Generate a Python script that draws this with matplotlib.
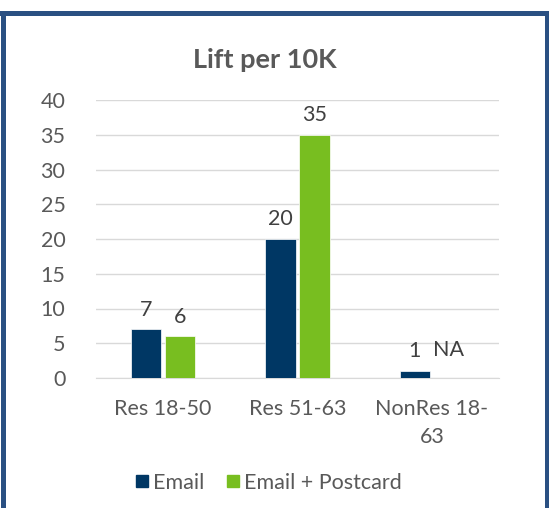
import matplotlib.pyplot as plt
from matplotlib.lines import Line2D
import numpy as np

categories = ["Res 18-50", "Res 51-63", "NonRes 18-\n63"]
email = [7, 20, 1]
email_postcard = [6, 35, None]  # NA for the last group
series_names = ["Email", "Email + Postcard"]
colors = ["#003764", "#78BE20"]
yticks = [0, 5, 10, 15, 20, 25, 30, 35, 40]

plt.rcParams["font.family"] = ["Lato", "DejaVu Sans"]

fig = plt.figure(figsize=(5.49, 5.08), dpi=100)
ax = fig.add_axes([96 / 549, 1 - 378 / 508, 403 / 549, 278 / 508])

x = np.arange(len(categories))
w = 0.224
off = 0.253
for i, (vals, c) in enumerate(zip([email, email_postcard], colors)):
    pos = x + (i - 0.5) * off
    for p, v in zip(pos, vals):
        if v is None:
            ax.text(p, 2.6, "NA", ha="center", va="bottom", fontsize=15.5, color="#404040")
            continue
        ax.bar(p, v, width=w, color=c, edgecolor="white", linewidth=0.5, zorder=3)
        ax.text(p, v + 1.4, str(v), ha="center", va="bottom", fontsize=15.5, color="#404040")

ax.set_xlim(-0.5, len(categories) - 0.5)
ax.set_ylim(0, 40)
ax.set_yticks(yticks)
ax.set_xticks(x)
ax.set_xticklabels(categories, fontsize=15.5, color="#595959", linespacing=1.5)
ax.tick_params(axis="y", labelsize=15.5, labelcolor="#595959", length=0, pad=22)
ax.tick_params(axis="x", length=0, pad=15)
ax.grid(axis="y", color="#d9d9d9", linewidth=1, zorder=0)
for s in ["left", "right", "top"]:
    ax.spines[s].set_visible(False)
ax.spines["bottom"].set_color("#d9d9d9")

fig.text(265 / 549, 1 - 60 / 508, "Lift per 10K", ha="center", va="center",
         fontsize=19.5, fontweight="bold", color="#595959")

handles = [Line2D([], [], marker="s", linestyle="none", markersize=9, color=c) for c in colors]
fig.legend(handles, series_names, loc="center", bbox_to_anchor=(268 / 549, 1 - 483 / 508),
           ncol=2, frameon=False, fontsize=15.5, labelcolor="#595959",
           handlelength=0.7, handletextpad=0.15, columnspacing=1.0)

# dark blue frame (bottom edge falls outside the picture)
fc = "#2a5082"
fig.add_artist(Line2D([2.5 / 549, 2.5 / 549], [0, 1 - 12.5 / 508], color=fc, lw=3.6, transform=fig.transFigure))
fig.add_artist(Line2D([546.5 / 549, 546.5 / 549], [0, 1 - 12.5 / 508], color=fc, lw=3.6, transform=fig.transFigure))
fig.add_artist(Line2D([0, 1], [1 - 12.5 / 508, 1 - 12.5 / 508], color=fc, lw=3.6, transform=fig.transFigure))

fig.savefig("out.png", dpi=100)
